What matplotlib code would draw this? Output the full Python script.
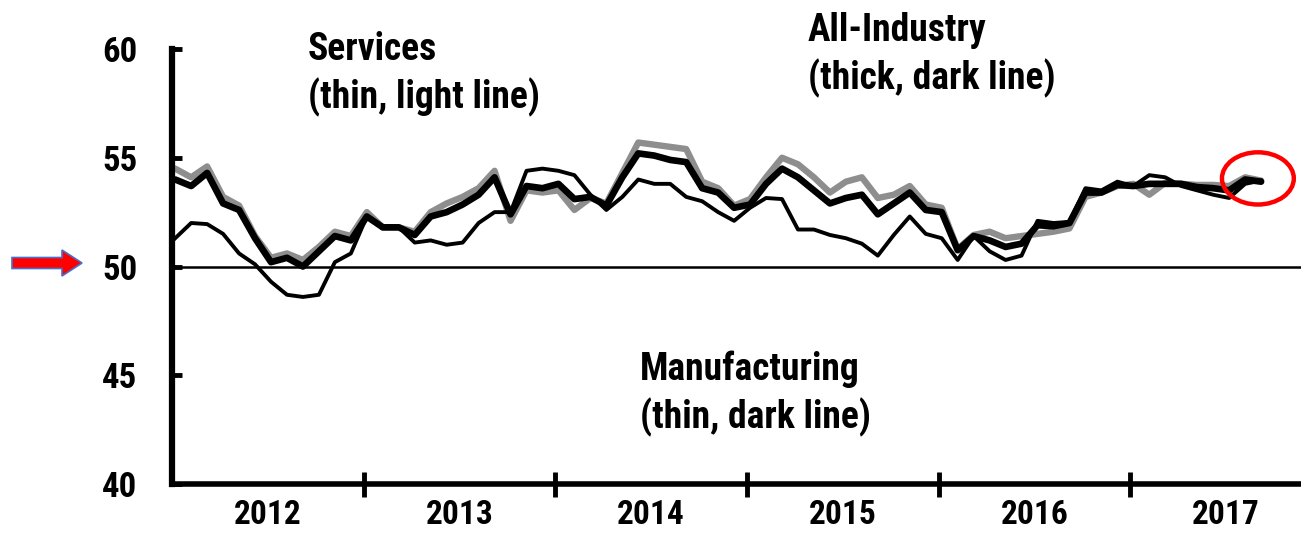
import matplotlib
matplotlib.use('Agg')
import matplotlib.pyplot as plt
from matplotlib import font_manager
from matplotlib.patches import Ellipse, FancyArrow

# monthly readings, Jan 2012 .. Sep 2017
years = ['2012', '2013', '2014', '2015', '2016', '2017']

services = [54.5, 54.1, 54.6, 53.2, 52.8, 51.4, 50.4, 50.6, 50.3, 50.9, 51.6, 51.4,
            52.5, 51.8, 51.8, 51.6, 52.5, 52.9, 53.2, 53.6, 54.4, 52.1, 53.5, 53.4,
            53.5, 52.6, 53.15, 52.9, 54.3, 55.7, 55.6, 55.5, 55.4, 53.9, 53.6, 52.8,
            53.1, 54.1, 55.0, 54.7, 54.1, 53.4, 53.9, 54.1, 53.15, 53.3, 53.7, 52.85,
            52.7, 50.8, 51.45, 51.6, 51.3, 51.4, 51.5, 51.6, 51.75, 53.2, 53.4, 53.7,
            53.8, 53.3, 53.85, 53.8, 53.75, 53.75, 53.7, 54.1, 53.95]

all_industry = [54.0, 53.7, 54.3, 52.9, 52.6, 51.3, 50.2, 50.4, 50.0, 50.7, 51.4, 51.2,
                52.3, 51.8, 51.8, 51.45, 52.3, 52.5, 52.85, 53.3, 54.1, 52.4, 53.7, 53.6,
                53.8, 53.1, 53.2, 52.8, 54.1, 55.2, 55.1, 54.9, 54.8, 53.6, 53.4, 52.7,
                52.85, 53.8, 54.5, 54.1, 53.5, 52.9, 53.15, 53.3, 52.4, 52.9, 53.4, 52.6,
                52.5, 50.75, 51.4, 51.2, 50.9, 51.05, 51.9, 51.85, 52.0, 53.4, 53.4, 53.75,
                53.7, 53.8, 53.8, 53.8, 53.65, 53.6, 53.5, 54.0, 53.9]

manufacturing = [51.3, 52.0, 51.95, 51.5, 50.6, 50.1, 49.3, 48.7, 48.6, 48.7, 50.2, 50.6,
                 52.3, 51.8, 51.8, 51.1, 51.2, 51.0, 51.1, 52.0, 52.5, 52.5, 54.4, 54.5,
                 54.4, 54.2, 53.3, 52.6, 53.2, 54.0, 53.8, 53.8, 53.2, 53.0, 52.5, 52.1,
                 52.7, 53.15, 53.1, 51.7, 51.7, 51.45, 51.3, 51.05, 50.5, 51.45, 52.3, 51.5,
                 51.3, 50.3, 51.4, 50.7, 50.3, 50.5, 52.1, 52.0, 52.05, 53.6, 53.5, 53.9,
                 53.7, 54.2, 54.1, 53.7, 53.5, 53.3, 53.15, 53.8, 53.95]


def pick_font():
    # narrow faces first, the reference text is a condensed bold sans
    for name, tsize, nsize in [('Liberation Sans Narrow', 26, 28), ('Arial Narrow', 26, 28),
                               ('Roboto Condensed', 25, 27)]:
        try:
            font_manager.findfont(font_manager.FontProperties(family=name),
                                  fallback_to_default=False)
            return name, tsize, nsize
        except ValueError:
            pass
    return 'Liberation Sans', 23, 24


font_name, tick_size, note_size = pick_font()
plt.rcParams['font.family'] = [font_name, 'DejaVu Sans']
plt.rcParams['font.weight'] = 'bold'

fig = plt.figure(figsize=(13.01, 5.34), dpi=100)
ax = fig.add_axes([172 / 1301, 50 / 534, 1 - 172 / 1301, 435 / 534])

months = list(range(len(services)))
ax.plot(months, services, color='#8e8e8e', lw=4.6, solid_joinstyle='round',
        solid_capstyle='round', zorder=2)
ax.plot(months, all_industry, color='black', lw=4.8, solid_joinstyle='round',
        solid_capstyle='round', zorder=3)
ax.plot(months, manufacturing, color='black', lw=2.8, solid_joinstyle='round', zorder=4)

ax.axhline(50, color='black', lw=1.8, zorder=1)

ax.set_ylim(40, 60)
ax.set_xlim(-0.2, 70.5)

for s in ['top', 'right']:
    ax.spines[s].set_visible(False)
ax.spines['left'].set_linewidth(4.5)
ax.spines['bottom'].set_linewidth(4.0)

ax.set_yticks([40, 45, 50, 55, 60])
ax.tick_params(axis='y', direction='in', length=7, width=3.5, pad=25, labelsize=tick_size)

# year boundaries as major ticks, year names centred in between
bounds = [12 * k - 0.2 for k in range(1, 6)]
ax.set_xticks(bounds)
ax.set_xticklabels([])
ax.set_xticks([12 * k + 5.8 for k in range(len(years))], minor=True)
ax.set_xticklabels(years, minor=True)
ax.tick_params(axis='x', which='major', direction='inout', length=18, width=3.5)
ax.tick_params(axis='x', which='minor', length=0, pad=11, labelsize=tick_size - 1)

fig.text(308 / 1301, 1 - 31 / 534, 'Services\n(thin, light line)', fontsize=note_size,
         ha='left', va='top', linespacing=1.3)
fig.text(808 / 1301, 1 - 12 / 534, 'All-Industry\n(thick, dark line)', fontsize=note_size,
         ha='left', va='top', linespacing=1.3)
fig.text(640 / 1301, 1 - 351 / 534, 'Manufacturing\n(thin, dark line)', fontsize=note_size,
         ha='left', va='top', linespacing=1.3)

# red marker circle round the latest readings
ax.add_patch(Ellipse((67.8, 54.05), 4.5, 2.4, fill=False, edgecolor='red', lw=3.2,
                     clip_on=False, zorder=5))

# arrow pointing at the 50 line
fig.patches.append(FancyArrow(12 / 1301, 1 - 263 / 534, 50 / 1301, 0,
                              width=11 / 534, head_width=26 / 534, head_length=20 / 1301,
                              length_includes_head=False, facecolor='#ff0000',
                              edgecolor='#4a6fc8', lw=1.2, transform=fig.transFigure))

fig.savefig('out.png', dpi=100)
